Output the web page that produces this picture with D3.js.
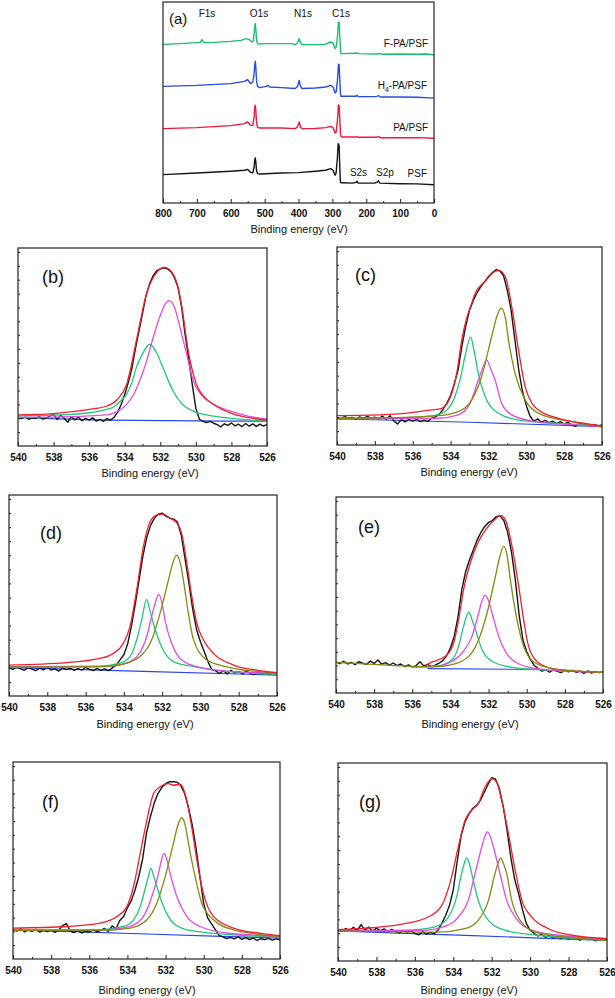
<!DOCTYPE html>
<html><head><meta charset="utf-8">
<script src="https://cdn.jsdelivr.net/npm/d3@7"></script>
<style>body{margin:0;background:#fff} svg{display:block} text{font-family:Arial,"Liberation Sans",sans-serif}</style>
</head><body><svg id="c" width="615" height="998"></svg>
<script>
// ---------- DATA ----------
const surveyTicks = [800,700,600,500,400,300,200,100,0];
const surveyMinor = [750,650,550,450,350,250,150,50];
const o1sTicks = [540,538,536,534,532,530,528,526];
const o1sMinor = [539,537,535,533,531,529,527];

// survey spectra: [binding energy eV, relative intensity %]
const surveyF = [[800,78.9],[750,79.3],[700,79.8],[690,79.9],[685,81.3],[680,79.8],[650,79.9],[600,80.4],[570,80.9],[555,81.8],[545,81.3],[538,80.1],[534,80.6],[531,84.2],[529,88.4],[527.5,89.2],[526,86.7],[524,81.3],[521,79.3],[515,79.1],[500,79.3],[450,79.3],[420,79.3],[410,78.8],[403,79.6],[398,81.8],[394,79.8],[390,78.8],[350,78.8],[320,79.0],[305,80.1],[298,79.6],[292,76.8],[289,77.6],[285,82.6],[282,90.0],[280,90.0],[278,82.6],[276,76.0],[274.5,74.3],[270,74.3],[230,74.5],[227,74.8],[224,74.3],[170,74.1],[163,74.3],[150,74.0],[100,74.1],[50,74.0],[20,74.1],[0,73.6]];
const surveyH4 = [[800,58.0],[700,58.5],[600,59.4],[560,60.5],[550,61.4],[542,59.4],[535,60.2],[531,64.3],[529,69.0],[527.5,70.5],[526,67.7],[524,61.0],[521,58.0],[515,57.4],[495,58.0],[490,58.5],[485,57.7],[450,57.4],[410,57.0],[403,58.0],[398,61.0],[394,58.0],[390,57.0],[350,57.2],[320,57.7],[305,58.5],[298,57.7],[292,54.7],[289,55.2],[285,61.0],[282,69.0],[280,68.8],[278,61.0],[276,54.4],[274.5,53.1],[270,53.1],[230,53.1],[227,53.6],[224,52.9],[170,52.9],[163,53.4],[158,52.7],[100,52.7],[50,52.6],[0,52.2]];
const surveyPA = [[800,37.0],[700,37.5],[600,38.5],[560,39.5],[550,40.3],[542,38.6],[535,38.6],[531,42.8],[529,48.1],[527.5,48.6],[526,46.1],[524,40.3],[521,37.8],[515,37.3],[450,37.3],[410,37.0],[403,37.8],[398,40.3],[394,37.8],[390,37.0],[350,37.1],[320,37.5],[305,38.1],[298,37.5],[292,34.8],[289,35.3],[285,41.1],[282,48.8],[280,48.4],[278,41.1],[276,34.5],[274.5,33.2],[270,32.8],[230,32.8],[227,33.0],[224,32.7],[170,32.7],[163,33.0],[158,32.5],[100,32.5],[50,32.5],[0,32.2]];
const surveyPSF = [[800,14.1],[700,14.9],[600,15.8],[560,16.3],[550,16.7],[542,15.3],[535,15.0],[531,17.9],[529,21.6],[527.5,22.4],[526,20.4],[524,16.3],[521,14.6],[515,14.4],[450,14.9],[400,15.1],[350,15.8],[320,16.3],[305,17.1],[298,16.3],[292,13.8],[289,14.9],[285,22.9],[283,29.5],[280,28.7],[278.5,19.6],[277,12.9],[276,10.4],[274.5,10.1],[270,10.1],[240,9.9],[230,10.3],[227,10.8],[224,9.9],[175,9.9],[168,10.4],[164,11.1],[160,9.9],[100,9.6],[50,9.5],[0,9.1]];

// O1s high-resolution scans: shared energy grid for measured data
const gridEV = [540,539.8,539.6,539.4,539.2,539,538.8,538.6,538.4,538.2,538,537.8,537.6,537.4,537.2,537,536.8,536.6,536.4,536.2,536,535.8,535.6,535.4,535.2,535,534.8,534.6,534.4,534.2,534,533.8,533.6,533.4,533.2,533,532.8,532.6,532.4,532.2,532,531.8,531.6,531.4,531.2,531,530.8,530.6,530.4,530.2,530,529.8,529.6,529.4,529.2,529,528.8,528.6,528.4,528.2,528,527.8,527.6,527.4,527.2,527,526.8,526.6,526.4,526.2,526];

// (b)
const bSignal = [14.5,13.8,14.6,13.5,14.2,13.9,14.8,13.6,14.1,15.2,16.0,13.4,15.5,14.0,12.0,14.8,13.2,14.5,12.8,14.0,13.1,14.2,12.6,13.5,12.4,13.8,13.0,14.5,17,21,26,32,39,49,58,67,76,82,86,88.5,89.5,90,89.5,88,85,80,70,56,44,31,19,13.5,12.5,11.8,12.4,11.5,10.8,9.6,11.2,10.4,11.6,10.2,11.0,9.8,11.4,10.0,11.2,9.9,11.0,10.1,10.8];
const bBlue = [[540,14.5],[535,13.1],[530,12.7],[526,12.5]];
const bRed = [[540,15.7],[538,16.4],[536,18.5],[535,20.2],[534.4,23.6],[533.9,31],[533.35,53],[532.78,76.7],[532.2,87.7],[531.75,90.2],[531.28,86.8],[531.0,80],[530.8,71],[530.43,48],[529.96,31],[529.5,24.5],[529,21],[528,16.5],[527,14.3],[526,13]];
const bGreen = [[540,15.2],[538,15.6],[537,16],[536,16.8],[535,18.5],[534.7,19.4],[534.2,23],[533.9,26],[533.6,32],[533.35,39.6],[533,46.5],[532.6,51.4],[532.2,47],[531.85,39.6],[531.5,32],[531.28,27.8],[530.8,21.5],[530.52,19.4],[530,17],[529.4,15.7],[528,14],[526,12.6]];
const bMagenta = [[540,14.5],[538,14.6],[536,15.2],[534.86,16],[534.3,18],[533.9,21],[533.5,26],[533.16,33],[532.8,42],[532.4,54.8],[532,66],[531.7,72],[531.5,73.4],[531.2,70],[530.95,62],[530.7,53],[530.4,42],[530.15,33],[529.7,26],[529,21],[528,17.5],[527,15],[526,13.5]];

// (c)
const cSignal = [14.0,13.2,14.4,13.5,13.9,13.0,14.2,13.3,14.5,13.6,14.1,13.2,14.6,13.0,14.8,12.2,10.6,12.8,11.6,13.0,12.0,12.9,11.8,12.6,11.9,13.5,14.2,15.5,18,21,25,31,38,50,60,68,73,77,80,82.5,85,87,88.5,88,85.5,78,68,53,38,27,20,14.5,12.0,13.2,11.5,12.4,11.3,12.0,10.8,11.8,10.6,11.4,10.2,9.4,10.8,10.0,10.6,9.7,10.4,9.6,10.2];
const cBlue = [[540,13.2],[533,11.5],[526,9.3]];
const cRed = [[540,14.8],[537.5,15.3],[536.4,16],[535,17.7],[534.47,18.5],[533.94,26],[533.68,36],[533.41,53],[533.15,64],[532.88,71.7],[532.7,76.7],[532.18,82.6],[531.65,87.7],[531.47,88.2],[531.12,85.2],[530.77,70],[530.41,48],[530.06,29.5],[529.7,21],[529.35,17.7],[528.3,13.5],[527,11],[526,9.6]];
const cOlive = [[540,13.5],[536.4,14],[534.65,14.8],[533.6,16.9],[532.88,22.8],[532.36,34.6],[531.83,54.8],[531.55,65],[531.33,69.1],[531.12,65],[530.94,53],[530.59,36],[530.06,22.8],[529.35,16],[527.6,11.8],[526,9.3]];
const cGreen = [[540,13.5],[536,13.9],[535,14.7],[534.3,16.9],[533.77,24.5],[533.5,32.9],[533.24,44.7],[532.94,54.5],[532.75,47],[532.53,36],[532.1,22.8],[531.47,16],[530.4,12.6],[528,10.8],[526,9.6]];
const cMagenta = [[540,13.3],[536,13.3],[534.65,13.5],[533.6,15.2],[532.97,21],[532.53,32.9],[532.3,39],[532.1,43],[531.9,39],[531.65,32.9],[531.3,21],[530.77,15.2],[529.7,12.1],[528,10.5],[526,9.3]];

// (d)
const dSignal = [14.0,13.2,14.3,13.6,12.8,14.1,13.4,12.6,13.9,13.0,14.4,12.9,13.5,12.4,14.0,13.1,13.8,12.7,13.6,12.9,14.2,13.3,12.6,13.7,12.8,13.5,12.6,14.0,15.5,18,20.5,26,35,46,58,70,79,85,88.5,90.5,91,89.5,88.5,88,86.5,80,68,56,43,33,27,22,17,13,12.5,11.2,12.6,11.0,12.8,11.5,12.2,11.0,12.4,11.3,10.6,11.9,11.0,11.6,10.8,11.4,11.0];
const dBlue = [[540,14.1],[533,12.3],[526,10.4]];
const dRed = [[540,15.4],[537,16.6],[535.25,18.7],[534.55,21.2],[534.03,26.2],[533.68,34.5],[533.33,52.7],[532.98,74.3],[532.63,86.7],[532.29,90],[531.94,90.5],[531.59,88.4],[531.24,86.2],[530.98,80.9],[530.71,66],[530.45,49.4],[530.19,36.2],[529.84,27.9],[529.32,21.2],[528.27,15.4],[527,12.8],[526,11.6]];
const dOlive = [[540,14.3],[535.25,14.6],[534.03,15.9],[533.16,19.6],[532.55,27.9],[532.11,41.1],[531.67,57.7],[531.45,66],[531.24,70.1],[531.05,66],[530.89,57.7],[530.63,41.1],[530.36,27.9],[529.67,17.9],[528.27,13.8],[526,11.6]];
const dGreen = [[540,14.6],[535.25,14.9],[534.2,16.3],[533.68,19.6],[533.33,27.9],[533.07,37.8],[532.81,48.1],[532.65,43],[532.46,36.2],[532.03,24.5],[531.41,17.1],[530.36,14.6],[528.44,12.1],[526,10.8]];
const dMagenta = [[540,14.3],[534.9,14.6],[533.85,16.3],[533.25,20.4],[532.81,29.5],[532.55,39.5],[532.4,45],[532.18,50.6],[531.98,45],[531.85,37.8],[531.5,26.2],[530.98,17.9],[530,14.1],[528.27,12.1],[526,11.3]];

// (e)
const eSignal = [15.8,15.0,16.2,14.8,15.6,14.5,16.0,15.2,14.6,16.3,15.1,16.8,14.7,15.5,14.2,15.3,14.0,14.8,13.5,14.4,13.2,14.0,16.0,13.8,14.6,13.5,14.2,15.2,16.5,19,23,29,39,53,62,68,73,78,82,85,87,88,90,90.5,88,82,72,58,40,27,21,17,14,12.5,11.2,11.8,10.6,11.9,11.0,10.4,11.5,10.8,11.6,10.5,11.2,10.0,11.3,10.1,10.9,10.4,10.7];
const eBlue = [[535.2,12.4],[529,12.0]];
const eRed = [[535.3,14.0],[535.14,15.0],[534.27,18.7],[533.83,25.5],[533.57,37.4],[533.31,52.7],[532.96,66.3],[532.52,77.4],[532.08,84.2],[531.64,88.8],[531.38,90.6],[531.12,88.4],[530.77,74.8],[530.42,54.4],[530.16,37.4],[529.9,23.8],[529.37,15.3],[528.32,11.9],[526,10.5]];
const eOlive = [[540,15.6],[538,14.6],[536,13.6],[534.97,13.3],[533.92,14.5],[533.04,18.7],[532.52,27.2],[532.08,40.8],[531.64,59.5],[531.4,70],[531.21,74.8],[531.02,70],[530.86,57.8],[530.51,37.4],[530.16,23.8],[529.55,15.3],[528.32,11.9],[526,10.5]];
const eGreen = [[536,13.3],[534.62,13.9],[533.92,17],[533.57,23.8],[533.31,34],[533.04,41.2],[532.85,37],[532.69,32.3],[532.34,22.1],[531.82,16.2],[530.77,13.1],[529.37,11.9],[528,11.2]];
const eMagenta = [[536,13.4],[534.79,13.6],[534.09,15.3],[533.39,20.4],[532.87,28.9],[532.52,40.8],[532.35,47],[532.17,49.8],[532.0,47],[531.82,40.8],[531.47,28.9],[530.94,18.7],[530.07,13.6],[529.02,11.9],[526,10.5]];

// (f)
const fSignal = [15.0,14.2,15.3,13.8,14.7,14.0,15.1,13.6,14.5,13.9,14.8,13.5,14.6,17.0,18.0,14.2,13.4,14.5,13.2,14.1,13.6,15.0,13.8,14.6,15.5,14.0,16.8,15.2,19.5,21.6,26,29.5,35,42,51,64,72,79,84,87,89,90,90,89.8,88,84,77,68,56,42,28,21,18,15,12,11.2,10.4,11.0,10.2,11.3,10.0,10.8,9.9,10.6,9.4,10.3,9.8,10.5,9.6,10.2,9.7];
const fBlue = [[540,14.8],[533,12.7],[526,10.6]];
const fRed = [[540,15.7],[537.17,16.5],[535.43,18.2],[534.55,21.6],[534.03,26.6],[533.68,36.8],[533.33,53.6],[532.98,70.5],[532.63,84],[532.29,87.4],[531.85,89],[531.59,88.2],[531.24,88.7],[530.98,84],[530.63,67.1],[530.36,50.3],[530.02,33.4],[529.49,21.6],[528.44,15.7],[527,13],[526,11.8]];
const fOlive = [[540,14.5],[535.43,14.5],[533.86,15.7],[532.98,19.9],[532.46,28.3],[532.02,41.8],[531.59,58.7],[531.35,68],[531.15,71.7],[530.97,68],[530.8,58.7],[530.45,41.8],[530.1,28.3],[529.49,19.9],[528.44,14.8],[526,11.5]];
const fGreen = [[540,14.6],[535.43,14.8],[534.2,16.5],[533.68,19.9],[533.33,26.6],[533.04,36.8],[532.9,42],[532.77,46],[532.62,42],[532.46,36.8],[532.11,26.6],[531.59,18.2],[530.72,14.5],[528.44,12.3],[526,11.1]];
const fMagenta = [[540,14.6],[535.08,14.8],[533.86,16.5],[533.16,21.6],[532.72,31.7],[532.37,43.5],[532.22,50],[532.08,53.6],[531.92,50],[531.76,43.5],[531.41,31.7],[530.89,21.6],[530.19,16.5],[528.79,13.2],[526,11.5]];

// (g)
const gSignal = [15.8,15.0,16.4,15.2,17.0,15.4,18.4,15.6,17.2,15.0,16.6,15.3,16.2,14.8,16.0,15.0,14.2,15.5,14.6,15.2,14.0,13.2,14.8,13.6,14.4,13.8,15.5,19,23,28,36,50,63,70,74,77,78.5,81,85,89,92.6,91.8,87,78,66,52,41,34,26,19,15.5,14,12.6,13.4,12.0,12.8,11.6,12.4,11.4,12.2,11.0,11.8,11.2,10.6,11.5,10.8,11.3,10.2,11.0,10.4,10.9];
const gBlue = [[540,15.2],[533,12.8],[526,10.4]];
const gRed = [[540,15.8],[538.26,16.8],[536.52,18.9],[535.3,22.2],[534.6,28.1],[534.09,42.4],[533.74,57.6],[533.39,71],[533.04,76.1],[532.7,79.5],[532.35,87.9],[532,92.1],[531.74,90.4],[531.48,81.1],[531.13,64.3],[530.78,45.8],[530.43,30.6],[529.91,22.2],[529.04,16.3],[527.83,13],[526,11.3]];
const gOlive = [[540,15.2],[534.78,14.6],[533.39,16.3],[532.7,20.5],[532.17,30.6],[531.83,44.1],[531.65,50],[531.53,52],[531.38,49],[531.22,44.1],[530.96,30.6],[530.52,20.5],[529.74,14.6],[527.83,11.8],[526,10.4]];
const gGreen = [[540,15.3],[536.52,15.5],[534.96,17.2],[534.26,22.2],[533.83,32.3],[533.57,44.1],[533.42,49.5],[533.3,52],[533.17,49.5],[533.04,44.1],[532.7,30.6],[532.17,20.5],[531.3,15.5],[529.57,13],[526,10.4]];
const gMagenta = [[540,15.3],[535.65,15.5],[534.43,17.5],[533.74,22.2],[533.22,30.6],[532.87,44.1],[532.52,57.6],[532.35,63],[532.23,65.2],[532.08,63],[531.91,57.6],[531.57,44.1],[531.22,30.6],[530.78,22.2],[530.09,16.3],[528.52,13],[526,11.3]];

// ---------- STYLE / LAYOUT ----------
const COL = {black:"#151515", red:"#f2202c", green:"#20c878", magenta:"#e24ce6", olive:"#848a10", blue:"#2a46e8"};
const svg = d3.select("#c");
svg.append("rect").attr("width",615).attr("height",998).attr("fill","#fff");

function frame(g, x, y, box, ticks, minor, pad, fsz) {
  const [x0,y0,x1,y1] = box;
  g.append("g").attr("transform",`translate(0,${y1})`)
    .call(d3.axisBottom(x).tickValues(minor).tickSize(-2).tickFormat(""))
    .call(s=>{s.select(".domain").remove(); s.selectAll("line").attr("stroke","#222");});
  g.append("g").attr("transform",`translate(0,${y1})`)
    .call(d3.axisBottom(x).tickValues(ticks).tickSize(-4).tickPadding(pad).tickFormat(d3.format("d")))
    .call(s=>{s.select(".domain").remove(); s.selectAll("line").attr("stroke","#222");
      s.selectAll("text").attr("font-size",fsz).attr("font-weight","bold").attr("fill","#111")
       .attr("font-family","Arial, 'Liberation Sans', sans-serif");});
  g.append("rect").attr("x",x0).attr("y",y0).attr("width",x1-x0).attr("height",y1-y0)
    .attr("fill","none").attr("stroke","#222").attr("stroke-width",1.2);
}

// ---------- PANEL (a) ----------
{
  const box = [163,2,434,203];
  const x = d3.scaleLinear().domain([800,0]).range([box[0],box[2]]);
  const y = d3.scaleLinear().domain([0,100]).range([box[3],box[1]]);
  const g = svg.append("g");
  const line = d3.line().x(d=>x(d[0])).y(d=>y(d[1]));
  [[surveyPSF,COL.black],[surveyPA,"#f0183c"],[surveyH4,"#2a4be0"],[surveyF,"#19c06a"]].forEach(([d,c])=>{
    g.append("path").attr("d",line(d)).attr("fill","none").attr("stroke",c).attr("stroke-width",1.4).attr("stroke-linejoin","round");
  });
  frame(g,x,y,box,surveyTicks,surveyMinor,7,"10px");
  const T = (tx,ty,s,anchor,size,w)=>g.append("text").attr("x",tx).attr("y",ty).attr("text-anchor",anchor||"start")
     .attr("font-size",size||"10px").attr("font-weight",w||"normal").attr("fill","#111").text(s);
  T(169,24,"(a)","start","15px");
  T(207,17,"F1s","middle"); T(259,17,"O1s","middle"); T(303,17,"N1s","middle"); T(341,17,"C1s","middle");
  T(358.5,176,"S2s","middle"); T(385,176,"S2p","middle");
  T(428,47,"F-PA/PSF","end"); T(428,131,"PA/PSF","end"); T(427,177,"PSF","end");
  const h = g.append("text").attr("x",427).attr("y",89).attr("text-anchor","end").attr("font-size","10px").attr("fill","#111");
  h.append("tspan").text("H"); h.append("tspan").attr("font-size","7px").attr("dy",2.5).text("4");
  h.append("tspan").attr("dy",-2.5).text("-PA/PSF");
  T(299,233,"Binding energy (eV)","middle","11px");
}

// ---------- PANELS (b)-(g) ----------
const panels = [
  {label:"(b)", box:[18,248,267,446], lab:[42,283], title:[150,477], signal:bSignal, fits:[[bBlue,"blue"],[bGreen,"green"],[bMagenta,"magenta"],[bRed,"red"]]},
  {label:"(c)", box:[337,247,602,445], lab:[355,281], title:[469,476], signal:cSignal, fits:[[cBlue,"blue"],[cGreen,"green"],[cMagenta,"magenta"],[cOlive,"olive"],[cRed,"red"]]},
  {label:"(d)", box:[9,495,277,696], lab:[40,539], title:[145,728], signal:dSignal, fits:[[dBlue,"blue"],[dGreen,"green"],[dMagenta,"magenta"],[dOlive,"olive"],[dRed,"red"]]},
  {label:"(e)", box:[336,497,603,693], lab:[358,533], title:[470,728], signal:eSignal, fits:[[eBlue,"blue"],[eGreen,"green"],[eMagenta,"magenta"],[eRed,"red"],[eOlive,"olive"]]},
  {label:"(f)", box:[13,762,280,959], lab:[42,808], title:[147,994], signal:fSignal, fits:[[fBlue,"blue"],[fGreen,"green"],[fMagenta,"magenta"],[fOlive,"olive"],[fRed,"red"]]},
  {label:"(g)", box:[338,763,607,961], lab:[359,808], title:[469,994], signal:gSignal, fits:[[gBlue,"blue"],[gGreen,"green"],[gMagenta,"magenta"],[gOlive,"olive"],[gRed,"red"]]}
];

panels.forEach(p=>{
  const [x0,y0,x1,y1] = p.box;
  const x = d3.scaleLinear().domain([540,526]).range([x0,x1]);
  const y = d3.scaleLinear().domain([0,100]).range([y1,y0]);
  const g = svg.append("g");
  const clipId = "clip"+p.label.replace(/\W/g,"");
  g.append("clipPath").attr("id",clipId).append("rect").attr("x",x0).attr("y",y0).attr("width",x1-x0).attr("height",y1-y0);
  const body = g.append("g").attr("clip-path",`url(#${clipId})`);
  const smooth = d3.line().x(d=>x(d[0])).y(d=>y(d[1])).curve(d3.curveMonotoneX);
  const raw = d3.line().x(d=>x(d[0])).y(d=>y(d[1]));
  const fits = p.fits;
  body.append("path").attr("d",smooth(fits[0][0].slice().reverse())).attr("fill","none").attr("stroke",COL[fits[0][1]]).attr("stroke-width",1.2);
  body.append("path").attr("d",raw(d3.zip(gridEV,p.signal))).attr("fill","none").attr("stroke",COL.black).attr("stroke-width",1.4).attr("stroke-linejoin","round");
  fits.slice(1).forEach(([d,c])=>{
    body.append("path").attr("d",smooth(d.slice().reverse())).attr("fill","none").attr("stroke",COL[c]).attr("stroke-width",1.3);
  });
  g.append("g").attr("transform",`translate(${x0},0)`)
    .call(d3.axisLeft(y).tickValues(d3.range(7,100,7)).tickSize(-2).tickFormat(""))
    .call(s=>{s.select(".domain").remove(); s.selectAll("line").attr("stroke","#222");});
  frame(g,x,y,p.box,o1sTicks,o1sMinor,8,"10px");
  g.append("text").attr("x",p.lab[0]).attr("y",p.lab[1]).attr("font-size","18px").attr("fill","#111").text(p.label);
  g.append("text").attr("x",p.title[0]).attr("y",p.title[1]).attr("text-anchor","middle").attr("font-size","11px").attr("fill","#111").text("Binding energy (eV)");
});
</script></body></html>
